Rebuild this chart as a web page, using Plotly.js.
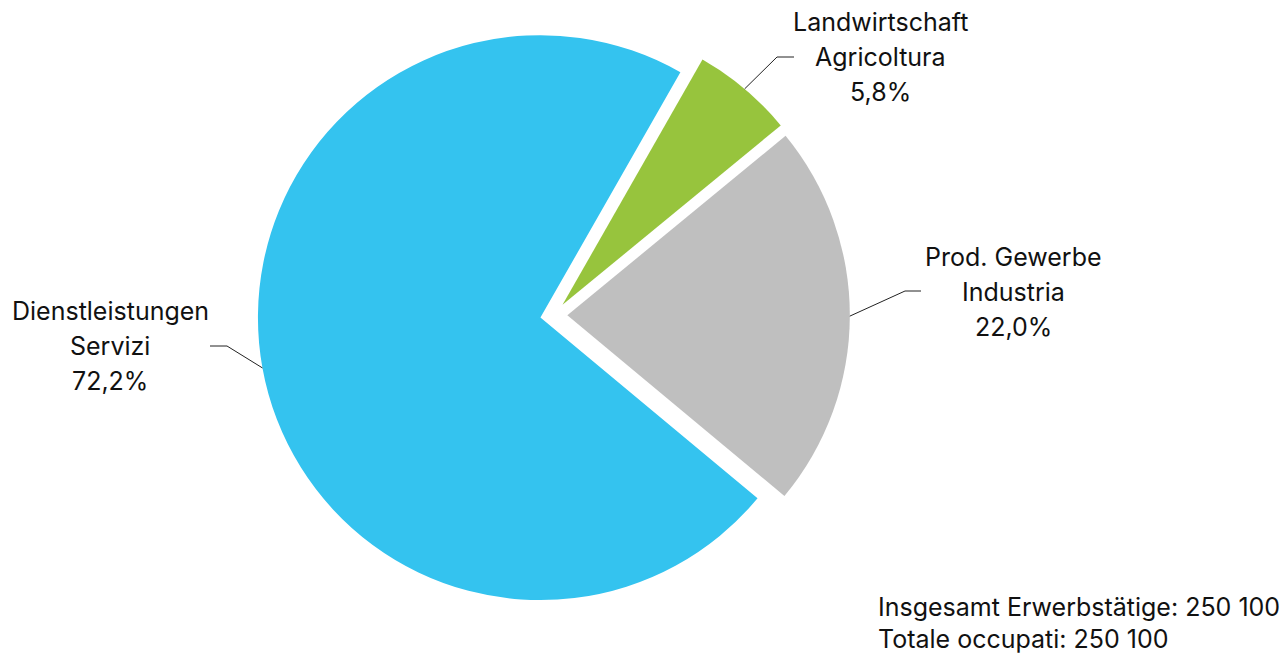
<!DOCTYPE html>
<html>
<head>
<meta charset="utf-8">
<script src="https://cdn.plot.ly/plotly-3.0.1.min.js"></script>
<style>html,body{margin:0;padding:0;background:#fff;}#chart{width:1281px;height:656px;}</style>
</head>
<body>
<div id="chart"></div>
<script>
// ---- data ----
const labelsDe = ["Landwirtschaft", "Prod. Gewerbe", "Dienstleistungen"];
const labelsIt = ["Agricoltura", "Industria", "Servizi"];
const shares = [5.8, 22.0, 72.2];
const totalLines = ["Insgesamt Erwerbstätige: 250 100", "Totale occupati: 250 100"];

// ---- style / layout config ----
const W = 1281, H = 656;
const colors = ["#97C43D", "#BFBFBF", "#34C3EF"];
const PULL = 0.048;
const ROT = 29.7;
const FONT = "Inter, 'DejaVu Sans', sans-serif";
const FS = 25;
const domX = [0.1903, 0.6743], domY = [0.0682, 0.9708];
// label block centre (px) of middle line, and leader elbow / end (px)
const labelCfg = [
  {cx: 880, cy: 57, elbow: [777, 57], end: [794, 57]},
  {cx: 1013, cy: 292, elbow: [905, 291], end: [921, 291]},
  {cx: 110, cy: 346, elbow: [227, 346], end: [210, 346]}
];
const lineGap = 35;

const fmt = v => v.toFixed(1).replace('.', ',') + '%';
const px2x = x => x / W, px2y = y => 1 - y / H;

// pie geometry (mirrors Plotly's own layout of the pie)
const pw = (domX[1] - domX[0]) * W, ph = (domY[1] - domY[0]) * H;
const R = Math.min(pw, ph) / (2 + 2 * PULL);
const CX = (domX[0] + domX[1]) / 2 * W, CY = (1 - (domY[0] + domY[1]) / 2) * H;
const tot = shares.reduce((a, b) => a + b, 0);

const annotations = [], shapes = [];
let acc = 0;
shares.forEach((v, i) => {
  const mid = (ROT + (acc + v / 2) / tot * 360) * Math.PI / 180;
  acc += v;
  const sx = CX + (1 + PULL) * R * Math.sin(mid);
  const sy = CY - (1 + PULL) * R * Math.cos(mid);
  const c = labelCfg[i];
  shapes.push({
    type: 'path', xref: 'paper', yref: 'paper',
    path: `M ${px2x(sx)} ${px2y(sy)} L ${px2x(c.elbow[0])} ${px2y(c.elbow[1])} L ${px2x(c.end[0])} ${px2y(c.end[1])}`,
    line: {color: '#222', width: 1}
  });
  [labelsDe[i], labelsIt[i], fmt(v)].forEach((t, k) => {
    annotations.push({
      text: t, showarrow: false, xref: 'paper', yref: 'paper',
      x: px2x(c.cx), y: px2y(c.cy + (k - 1) * lineGap),
      xanchor: 'center', yanchor: 'middle',
      font: {family: FONT, size: FS, color: '#111'}
    });
  });
});
totalLines.forEach((t, k) => {
  annotations.push({
    text: t, showarrow: false, xref: 'paper', yref: 'paper',
    x: px2x(876), y: px2y(607 + k * 32),
    xanchor: 'left', yanchor: 'middle',
    font: {family: FONT, size: FS, color: '#111'}
  });
});

const trace = {
  type: 'pie',
  values: shares,
  labels: labelsDe,
  sort: false,
  direction: 'clockwise',
  rotation: ROT,
  pull: PULL,
  marker: {colors: colors, line: {width: 0}},
  textinfo: 'none',
  hoverinfo: 'label+percent',
  showlegend: false,
  domain: {x: domX, y: domY}
};

Plotly.newPlot('chart', [trace], {
  width: W, height: H,
  margin: {l: 0, r: 0, t: 0, b: 0},
  paper_bgcolor: '#fff',
  showlegend: false,
  annotations: annotations,
  shapes: shapes
}, {displayModeBar: false, staticPlot: true});
</script>
</body>
</html>
